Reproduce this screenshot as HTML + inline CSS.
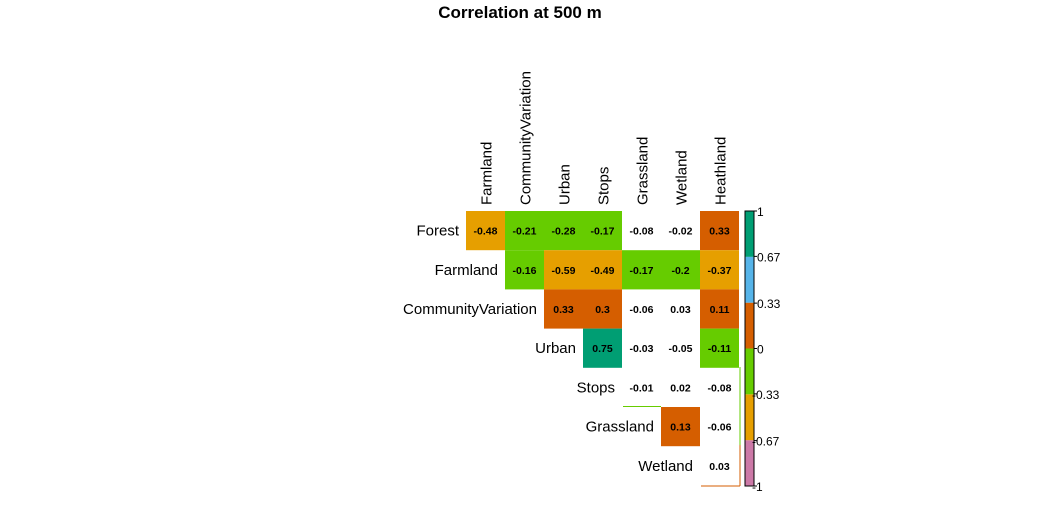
<!DOCTYPE html>
<html><head><meta charset="utf-8"><style>
body{margin:0;background:#fff;font-family:"Liberation Sans",Arial,sans-serif;}
</style></head><body>
<svg width="1042" height="500" xmlns="http://www.w3.org/2000/svg">
<text x="520" y="18" text-anchor="middle" font-size="17" font-weight="bold">Correlation at 500 m</text>
<g id="cells"></g>
<g id="labels"></g>
<line x1="740" y1="367" x2="740" y2="445" stroke="#66CC00"/>
<line x1="623" y1="406.5" x2="661" y2="406.5" stroke="#66CC00"/>
<line x1="740" y1="445" x2="740" y2="486" stroke="#D55E00"/>
<line x1="701" y1="486" x2="740" y2="486" stroke="#D55E00"/>
<g id="legend"></g>
</svg>
<script>
const rowNames=["Forest","Farmland","CommunityVariation","Urban","Stops","Grassland","Wetland"];
const colNames=["Farmland","CommunityVariation","Urban","Stops","Grassland","Wetland","Heathland"];
const corrValues=[
[-0.48,-0.21,-0.28,-0.17,-0.08,-0.02,0.33],
[null,-0.16,-0.59,-0.49,-0.17,-0.2,-0.37],
[null,null,0.33,0.3,-0.06,0.03,0.11],
[null,null,null,0.75,-0.03,-0.05,-0.11],
[null,null,null,null,-0.01,0.02,-0.08],
[null,null,null,null,null,0.13,-0.06],
[null,null,null,null,null,null,0.03]];
const legendTicks=[1,0.67,0.33,0,-0.33,-0.67,-1];
const legendLabels=["1","0.67","0.33","0","-0.33","-0.67","-1"];
const binColors=["#CC79A7","#E69F00","#66CC00","#D55E00","#56B4E9","#009E73"];
const NS="http://www.w3.org/2000/svg";
const x0=466,y0=211,cw=39,ch=39.2;
const xPos=j=>x0+j*cw, yPos=i=>y0+i*ch;
function color(v){const b=Math.min(5,Math.floor((v+1)/(2/6)));return binColors[b];}
const cells=document.getElementById('cells'),labels=document.getElementById('labels'),legend=document.getElementById('legend');
function mk(t,a,p){const e=document.createElementNS(NS,t);for(const k in a)e.setAttribute(k,a[k]);p.appendChild(e);return e;}
corrValues.forEach((row,i)=>row.forEach((v,j)=>{
 if(v===null)return;
 if(Math.abs(v)>=0.1){const r=mk('rect',{x:xPos(j),y:yPos(i),width:cw,height:ch,fill:color(v)},cells);
 
 }
 const t=mk('text',{x:xPos(j)+cw/2,y:yPos(i)+ch/2+4,'text-anchor':'middle','font-size':'10.5','font-weight':'bold'},cells);
 t.textContent=String(v);
 
 
}));
rowNames.forEach((n,i)=>{const t=mk('text',{x:xPos(i)-7,y:yPos(i)+ch/2+5,'text-anchor':'end','font-size':'15'},labels);t.textContent=n;
 
 });
colNames.forEach((n,j)=>{const cx=xPos(j)+cw/2+6;const t=mk('text',{x:cx,y:205,transform:`rotate(-90 ${cx} 205)`,'font-size':'15'},labels);t.textContent=n;
 
 });
const ly0=211,ly1=486,lx=745,lw=9;
const lY=v=>ly0+(1-v)/2*(ly1-ly0);
binColors.forEach((c,k)=>{const lo=-1+k/3,hi=lo+1/3;const r=mk('rect',{x:lx,y:lY(hi),width:lw,height:lY(lo)-lY(hi),fill:c},legend);
 
 });
mk('rect',{x:lx,y:ly0,width:lw,height:ly1-ly0,fill:'none',stroke:'#000','stroke-width':1},legend);
legendTicks.forEach((v,k)=>{mk('line',{x1:lx+lw,x2:lx+lw+3,y1:lY(v),y2:lY(v),stroke:'#000'},legend);
 const t=mk('text',{x:lx+lw+ (v<0?-2:3),y:lY(v)+5,'font-size':'12'},legend);t.textContent=legendLabels[k];
 
 });
</script>
</body></html>
